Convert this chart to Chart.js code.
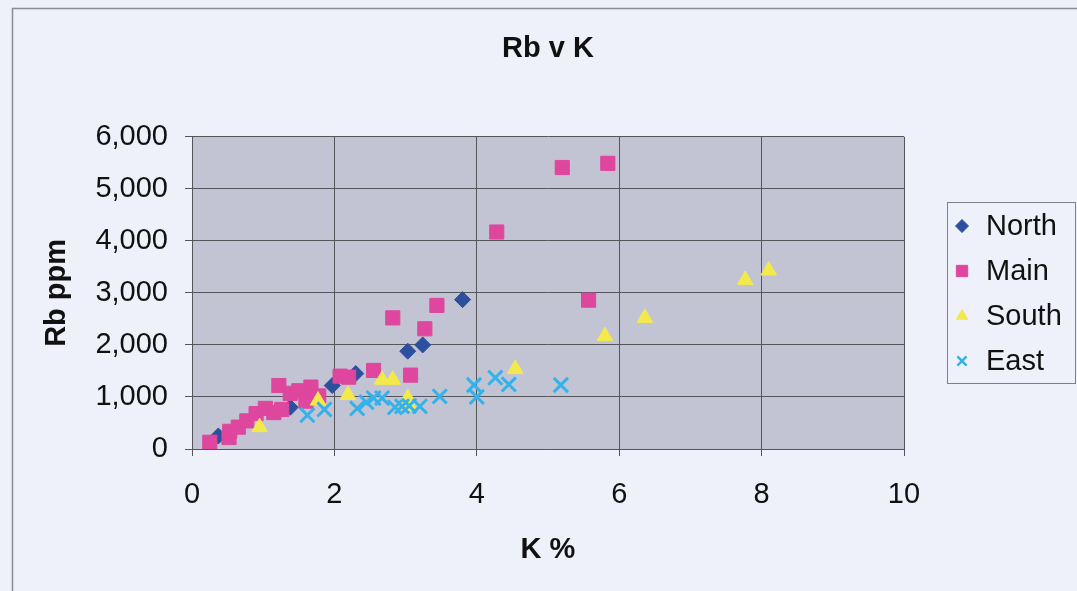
<!DOCTYPE html>
<html>
<head>
<meta charset="utf-8">
<script src="https://cdn.jsdelivr.net/npm/chart.js@4.4.1/dist/chart.umd.min.js"></script>
<style>
  html, body { margin: 0; padding: 0; background: #eef1f9; }
  #wrap { width: 1077px; height: 591px; }
</style>
</head>
<body>
<div id="wrap"><canvas id="myChart" width="1077" height="591"></canvas></div>
<script>
// values (K %, Rb ppm)
const northK = [0.37, 1.38, 1.97, 2.3, 3.03, 3.24, 3.8]
const northRb = [250, 800, 1220, 1450, 1880, 2000, 2870]

const mainK = [0.25, 0.52, 0.53, 0.65, 0.77, 0.9, 1.03, 1.15, 1.22, 1.26, 1.38, 1.5, 1.6, 1.67, 1.78, 2.08, 2.2, 2.55, 2.82, 3.07, 3.27, 3.44, 4.28, 5.2, 5.57, 5.84]
const mainRb = [130, 220, 340, 420, 540, 680, 780, 700, 1220, 760, 1070, 1120, 920, 1190, 1020, 1400, 1380, 1510, 2520, 1420, 2310, 2760, 4170, 5410, 2860, 5490]

const southK = [0.95, 1.77, 2.19, 2.67, 2.82, 3.03, 3.06, 4.54, 5.8, 6.36, 7.77, 8.1]
const southRb = [420, 930, 1040, 1330, 1330, 980, 820, 1540, 2170, 2520, 3250, 3430]

const eastK = [1.62, 1.86, 2.32, 2.45, 2.55, 2.67, 2.85, 2.95, 3.05, 3.2, 3.48, 3.96, 4.0, 4.26, 4.45, 5.18]
const eastRb = [650, 760, 780, 900, 980, 980, 800, 820, 830, 820, 1010, 1230, 1000, 1370, 1240, 1230]

const seriesNames = ['North', 'Main', 'South', 'East']
const xTicks = [0, 2, 4, 6, 8, 10]
const yTicks = [0, 1000, 2000, 3000, 4000, 5000, 6000]

const font = "'Liberation Sans', Arial, sans-serif"

function pairs(xs, ys){
    return xs.map((x, i) => ({x, y: ys[i]}))
}

// background, outer frame and grey plot area
const backdrop = {
    id: 'backdrop',
    beforeDraw(chart){
        const {ctx, chartArea: a} = chart
        ctx.save()
        ctx.fillStyle = '#eef1f9'
        ctx.fillRect(0, 0, chart.width, chart.height)
        ctx.strokeStyle = '#8a8d96'
        ctx.lineWidth = 1.5
        ctx.strokeRect(12.5, 8.5, chart.width + 20, chart.height + 20)
        ctx.fillStyle = '#c3c4d3'
        ctx.fillRect(a.left, a.top, a.right - a.left, a.bottom - a.top)
        ctx.restore()
    }
}

// legend box at the right, like the spreadsheet one
const sideLegend = {
    id: 'sideLegend',
    afterDraw(chart){
        const {ctx} = chart
        const left = 947, top = 202, w = 128, h = 181
        ctx.save()
        ctx.fillStyle = '#eef1f9'
        ctx.fillRect(left, top, w, h)
        ctx.strokeStyle = '#7d7f86'
        ctx.lineWidth = 1
        ctx.strokeRect(left + 0.5, top + 0.5, w, h)
        chart.data.datasets.forEach((ds, i) => {
            const cy = 226 + i * 45
            ctx.fillStyle = ds.backgroundColor
            ctx.strokeStyle = ds.borderColor
            ctx.lineWidth = ds.pointStyle === 'crossRot' ? 2.5 : 1
            Chart.helpers.drawPoint(ctx, {
                pointStyle: ds.pointStyle,
                radius: ds.pointStyle === 'rect' ? 8 : 6.5,
                rotation: 0,
                borderWidth: ctx.lineWidth
            }, 962, cy)
            ctx.fillStyle = '#111'
            ctx.font = '29px ' + font
            ctx.textBaseline = 'middle'
            ctx.fillText(ds.label, 986, cy + 1)
        })
        ctx.restore()
    }
}

const datasets = [
    {label: seriesNames[0], data: pairs(northK, northRb), pointStyle: 'rectRot', pointRadius: 8,
        backgroundColor: '#2c4f9e', borderColor: '#2c4f9e', order: 4},
    {label: seriesNames[1], data: pairs(mainK, mainRb), pointStyle: 'rect', pointRadius: 10,
        backgroundColor: '#de479d', borderColor: '#de479d', order: 3},
    {label: seriesNames[2], data: pairs(southK, southRb), pointStyle: 'triangle', pointRadius: 9,
        backgroundColor: '#f4e94c', borderColor: '#f4e94c', order: 2},
    {label: seriesNames[3], data: pairs(eastK, eastRb), pointStyle: 'crossRot', pointRadius: 10,
        backgroundColor: '#35b2ea', borderColor: '#35b2ea', pointBorderWidth: 3, order: 1}
]

const config = {
    type: 'scatter',
    data: {datasets},
    options: {
        responsive: false,
        animation: false,
        layout: {padding: {left: 0, right: 173, top: 0, bottom: 0}},
        plugins: {
            legend: {display: false},
            tooltip: {enabled: false},
            title: {
                display: true,
                text: 'Rb v K',
                fullSize: false,
                color: '#111',
                font: {family: font, size: 29, weight: 'bold'},
                padding: {top: 32, bottom: 70}
            }
        },
        scales: {
            x: {
                type: 'linear',
                min: xTicks[0],
                max: xTicks[xTicks.length - 1],
                afterBuildTicks: scale => { scale.ticks = xTicks.map(v => ({value: v})) },
                afterFit: scale => { scale.height = 142 },
                grid: {color: '#55565c', lineWidth: 1, tickLength: 7, tickColor: '#55565c'},
                border: {color: '#55565c'},
                ticks: {color: '#111', font: {family: font, size: 29}, padding: 22, maxRotation: 0},
                title: {display: true, text: 'K %', color: '#111',
                    font: {family: font, size: 29, weight: 'bold'}, padding: {top: 0, bottom: 24}}
            },
            y: {
                type: 'linear',
                min: yTicks[0],
                max: yTicks[yTicks.length - 1],
                afterBuildTicks: scale => { scale.ticks = yTicks.map(v => ({value: v})) },
                afterFit: scale => { scale.width = 192 },
                grid: {color: '#55565c', lineWidth: 1, tickLength: 7, tickColor: '#55565c'},
                border: {color: '#55565c'},
                ticks: {color: '#111', font: {family: font, size: 29}, padding: 17,
                    callback: v => v.toLocaleString('en-US')},
                title: {display: true, text: 'Rb ppm', color: '#111',
                    font: {family: font, size: 29, weight: 'bold'}, padding: {top: 40, bottom: 0}}
            }
        }
    },
    plugins: [backdrop, sideLegend]
}

const myChart = new Chart(document.getElementById('myChart'), config)
</script>
</body>
</html>
